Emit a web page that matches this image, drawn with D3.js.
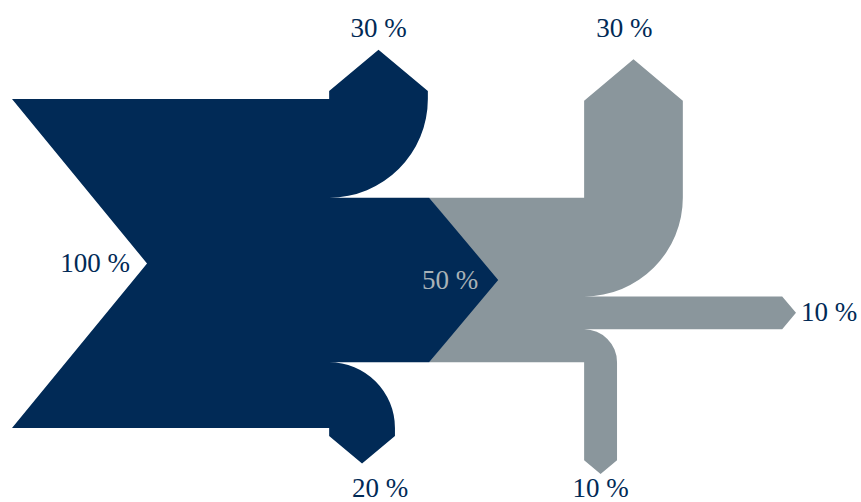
<!DOCTYPE html>
<html lang="en">
  <head>
    <meta charset="utf-8" />
    <title>Sankey flows</title>
    <script src="https://d3js.org/d3.v7.js"></script>
    <style>
      body { margin: 0; background: #fff; }
      text { font-family: "Liberation Serif", "Times New Roman", "DejaVu Serif", serif; }
    </style>
  </head>
  <body>
    <div id="graph"></div>
    <script>

    // flows of the two stages (input first, outputs negative)
    var flowsA = [100, -30, -50, -20];
    var orientA = [0, 1, 0, -1];
    var labelsA = ["100 %", "30 %", "", "20 %"];

    var flowsB = [50, -30, -10, -10];
    var orientB = [0, 1, 0, -1];
    var labelsB = ["50 %", "30 %", "10 %", "10 %"];

    var w = 861, h = 502;
    var navy = "#012a56", grey = "#8a969c";
    var headAngle = 100;

    // one flow unit in px is the same on both axes
    var x = d3.scaleLinear().domain([0, 100]).range([12, 341]);
    var y = d3.scaleLinear().domain([50, -50]).range([99, 428]);
    var u = x(1) - x(0);

    var svg = d3.select("#graph")
      .append("svg")
        .attr("width", w)
        .attr("height", h);

    function tipLen(width) {
      return (width / 2) / Math.tan(headAngle / 2 * Math.PI / 180);
    }

    // lay out a stage: trunk length and path length of each flow
    function layout(flows, orient, labels, opts) {
      var d = {flows: flows, orient: orient, labels: labels,
               x0: opts.x0, top: opts.top, trunk: opts.trunk,
               path: opts.path, nudge: opts.nudge || {}};
      d.width = flows[0];
      d.ex = d.x0 + d.trunk;
      d.tips = [];
      var yCur = d.top;
      // input tail
      d.tips[0] = {x: d.x0 + tipLen(d.width), y: d.top - d.width / 2};
      flows.forEach(function (f, i) {
        if (i === 0) return;
        var fw = -f;
        if (orient[i] === 1) {
          d.tips[i] = {x: d.ex + fw / 2, y: d.top + d.path[i] + tipLen(fw), w: fw};
          yCur -= fw;
        }
      });
      flows.forEach(function (f, i) {
        if (i === 0 || orient[i] !== 0) return;
        var fw = -f;
        d.tips[i] = {x: d.ex + d.path[i] + tipLen(fw), y: yCur - fw / 2, w: fw,
                     shoulder: d.ex + d.path[i], top: yCur};
        yCur -= fw;
      });
      var bot = d.top - d.width;
      flows.forEach(function (f, i) {
        if (orient[i] !== -1) return;
        var fw = -f;
        d.tips[i] = {x: d.ex + fw / 2, y: bot - d.path[i] - tipLen(fw), w: fw};
      });
      return d;
    }

    function shape(d) {
      var p = d3.path();
      var top = d.top, bot = d.top - d.width, ex = d.ex;
      var yCur = top;
      p.moveTo(x(d.x0), y(top));
      p.lineTo(x(ex), y(top));
      d.flows.forEach(function (f, i) {
        if (d.orient[i] !== 1) return;
        var fw = -f, pl = d.path[i];
        p.lineTo(x(ex), y(top + pl));
        p.lineTo(x(ex + fw / 2), y(top + pl + tipLen(fw)));
        p.lineTo(x(ex + fw), y(top + pl));
        p.lineTo(x(ex + fw), y(top));
        p.arc(x(ex), y(top), fw * u, 0, Math.PI / 2, false);
        yCur -= fw;
      });
      d.flows.forEach(function (f, i) {
        if (i === 0 || d.orient[i] !== 0) return;
        var fw = -f, pl = d.path[i];
        p.lineTo(x(ex + pl), y(yCur));
        p.lineTo(x(ex + pl + tipLen(fw)), y(yCur - fw / 2));
        p.lineTo(x(ex + pl), y(yCur - fw));
        p.lineTo(x(ex), y(yCur - fw));
        yCur -= fw;
      });
      d.flows.forEach(function (f, i) {
        if (d.orient[i] !== -1) return;
        var fw = -f, pl = d.path[i];
        p.arc(x(ex), y(bot), fw * u, -Math.PI / 2, 0, false);
        p.lineTo(x(ex + fw), y(bot - pl));
        p.lineTo(x(ex + fw / 2), y(bot - pl - tipLen(fw)));
        p.lineTo(x(ex), y(bot - pl));
        p.lineTo(x(ex), y(bot));
      });
      p.lineTo(x(d.x0), y(bot));
      p.lineTo(x(d.x0 + tipLen(d.width)) - 3, y(top - d.width / 2));
      p.closePath();
      return p.toString();
    }

    var stageA = layout(flowsA, orientA, labelsA,
      {x0: 0, top: 50, trunk: 96.4, path: [0, 2.4, 30.4, 2.4], nudge: {3: 18}});
    // second stage hangs on the right output of the first
    var link = stageA.tips[2];
    var stageB = layout(flowsB, orientB, labelsB,
      {x0: link.shoulder, top: link.top, trunk: 47.1, path: [0, 29.5, 60.2, 29.8], nudge: {1: -9}});

    var stages = [
      {d: stageB, color: grey, inColor: "#a9b2b7"},
      {d: stageA, color: navy, inColor: navy}
    ];

    svg.selectAll("path.flow")
      .data(stages)
      .join("path")
        .attr("class", "flow")
        .attr("d", s => shape(s.d))
        .attr("fill", s => s.color);

    // labels
    var allTips = [];
    stages.forEach(s => s.d.tips.forEach((t, i) => allTips.push({s: s, t: t, i: i})));
    var topY = d3.min(allTips.filter(a => a.s.d.orient[a.i] === 1), a => y(a.t.y)) - 13;
    var botY = d3.max(allTips.filter(a => a.s.d.orient[a.i] === -1), a => y(a.t.y)) + 23;

    allTips.forEach(function (a) {
      var d = a.s.d, i = a.i, txt = d.labels[i];
      if (!txt) return;
      var t = svg.append("text")
        .attr("font-family", "'Liberation Serif', 'Times New Roman', serif")
        .attr("font-size", 27)
        .attr("fill", i === 0 ? a.s.inColor : navy)
        .text(txt);
      var nx = d.nudge[i] || 0;
      if (i === 0) {
        t.attr("x", x(a.t.x) - 20).attr("y", y(a.t.y)).attr("dy", "0.32em")
         .attr("text-anchor", "end");
      } else if (d.orient[i] === 1) {
        t.attr("x", x(a.t.x) + nx).attr("y", topY).attr("text-anchor", "middle");
      } else if (d.orient[i] === -1) {
        t.attr("x", x(a.t.x) + nx).attr("y", botY).attr("text-anchor", "middle");
      } else {
        t.attr("x", x(a.t.x) + 5).attr("y", y(a.t.y)).attr("dy", "0.3em")
         .attr("text-anchor", "start");
      }
    });

    </script>
  </body>
</html>
